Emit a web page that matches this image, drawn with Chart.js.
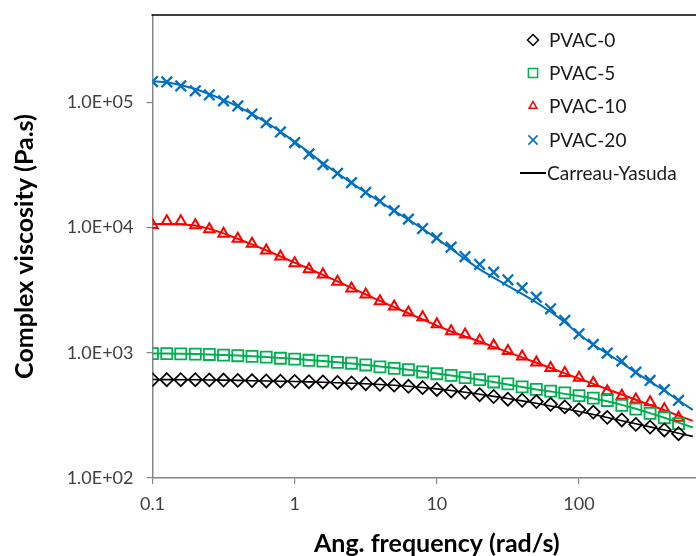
<!DOCTYPE html>
<html>
<head>
<meta charset="utf-8">
<script src="https://cdn.jsdelivr.net/npm/chart.js@4/dist/chart.umd.min.js"></script>
<style>
  html, body { margin: 0; padding: 0; background: #fff; overflow: hidden; }
  #wrap { width: 696px; height: 556px; overflow: hidden; }
</style>
</head>
<body>
<div id="wrap"><canvas id="chrt" width="731" height="559"></canvas></div>
<script>
// angular frequency (rad/s)
let freq = [0.1, 0.126, 0.158, 0.2, 0.251, 0.316, 0.398, 0.501, 0.631, 0.794,
    1, 1.26, 1.58, 2, 2.51, 3.16, 3.98, 5.01, 6.31, 7.94,
    10, 12.6, 15.8, 20, 25.1, 31.6, 39.8, 50.1, 63.1, 79.4,
    100, 126, 158, 200, 251, 316, 398, 501, 631];

// measured complex viscosity (Pa.s)
let pvac0 = [610, 610, 610, 610, 608, 606, 602, 600, 596, 594,
    592, 588, 585, 580, 574, 567, 560, 552, 540, 527,
    510, 496, 484, 463, 448, 426, 418, 408, 388, 370,
    352, 336, 305, 291, 268, 255, 242, 226];
let pvac5 = [984, 984, 982, 975, 970, 960, 948, 936, 924, 905,
    890, 872, 858, 840, 826, 800, 772, 752, 733, 703,
    681, 660, 634, 610, 585, 565, 535, 510, 494, 478,
    455, 434, 416, 380, 355, 328, 303, 272];
let pvac10 = [10520, 11250, 11250, 10450, 9710, 8920, 8140, 7430, 6560, 5880,
    5200, 4650, 4220, 3690, 3265, 2925, 2585, 2345, 2100, 1927,
    1690, 1490, 1400, 1256, 1146, 1032, 936, 838, 755, 689,
    633, 573, 494, 454, 423, 402, 355, 303];
let pvac20 = [147000, 146000, 135500, 124000, 115000, 103000, 93800, 80900, 69000, 58200,
    47800, 38800, 31900, 27200, 22900, 19100, 16300, 13700, 11700, 9840,
    8300, 6980, 5880, 5080, 4405, 3830, 3310, 2785, 2249, 1815,
    1420, 1167, 995, 859, 701, 602, 508, 417];

// Carreau-Yasuda fits
let fit0 = [612, 611, 610, 609, 607, 605, 602, 599, 596, 593,
    590, 586, 582, 577, 572, 566, 559, 551, 541, 529,
    515, 500, 484, 467, 449, 431, 413, 395, 376, 358,
    340, 322, 304, 287, 271, 256, 242, 228, 215];
let fit5 = [988, 986, 983, 978, 971, 962, 951, 939, 926, 911,
    895, 878, 860, 842, 822, 801, 779, 756, 732, 708,
    684, 659, 634, 609, 584, 559, 534, 509, 492, 470,
    452, 432, 410, 384, 357, 330, 303, 277, 253];
let fit10 = [10700, 10700, 10650, 10400, 9800, 9000, 8150, 7350, 6600, 5900,
    5250, 4700, 4200, 3720, 3300, 2930, 2600, 2320, 2070, 1850,
    1650, 1480, 1350, 1231, 1116, 1013, 919, 834, 756, 686,
    622, 565, 512, 465, 422, 383, 348, 315, 286];
let fit20 = [148000, 145000, 138000, 128000, 117000, 105000, 93000, 81000, 69500, 58500,
    48500, 40000, 32800, 27200, 22800, 19100, 16100, 13600, 11600, 9800,
    8150, 6800, 5600, 4650, 3990, 3420, 2960, 2530, 2130, 1760,
    1400, 1160, 985, 830, 695, 588, 500, 416, 350];

let names = ['PVAC-0', 'PVAC-5', 'PVAC-10', 'PVAC-20'];
let colors = ['#000000', '#00b050', '#ff0000', '#0070c0'];
let fitName = 'Carreau-Yasuda';

function pts(ys) {
    return ys.map((y, i) => ({x: freq[i], y: y}));
}

let markerStyles = [
    {pointStyle: 'rectRot', pointRadius: 6.5, pointBorderWidth: 1.7},
    {pointStyle: 'rect', pointRadius: 7.8, pointBorderWidth: 1.8},
    {pointStyle: 'triangle', pointRadius: 6, pointBorderWidth: 2},
    {pointStyle: 'crossRot', pointRadius: 7.5, pointBorderWidth: 2.3}
];
let legendStyles = [
    {pointStyle: 'rectRot', radius: 5.5, borderWidth: 1.8},
    {pointStyle: 'rect', radius: 6.5, borderWidth: 1.6},
    {pointStyle: 'triangle', radius: 4.5, borderWidth: 2},
    {pointStyle: 'crossRot', radius: 6.5, borderWidth: 2}
];

let measured = [pvac0, pvac5, pvac10, pvac20];
let fits = [fit0, fit5, fit10, fit20];

let datasets = [];
measured.forEach(function(m, i) {
    datasets.push(Object.assign({
        label: names[i],
        data: pts(m),
        showLine: false,
        borderColor: colors[i],
        backgroundColor: 'rgba(0,0,0,0)',
        pointBackgroundColor: 'rgba(0,0,0,0)',
        order: 0
    }, markerStyles[i]));
});
fits.forEach(function(f, i) {
    datasets.push({
        label: fitName,
        data: pts(f),
        showLine: true,
        borderColor: colors[i],
        borderWidth: i == 0 ? 1.6 : 2,
        pointRadius: 0,
        tension: 0,
        order: 1
    });
});

function isDecade(v) {
    let l = Math.log10(v);
    return Math.abs(l - Math.round(l)) < 1e-6;
}

// top frame line + legend inside the plot
let extras = {
    id: 'extras',
    afterDraw(chart) {
        let ctx = chart.ctx;
        let a = chart.chartArea;
        ctx.save();
        ctx.strokeStyle = '#000';
        ctx.lineWidth = 1.5;
        ctx.beginPath();
        ctx.moveTo(a.left - 1, a.top);
        ctx.lineTo(a.right, a.top);
        ctx.stroke();

        ctx.font = '19px Lato';
        ctx.textBaseline = 'middle';
        ctx.fillStyle = '#1a1a1a';
        let ys = [40, 73, 106, 140];
        for (let i = 0; i < 4; i++) {
            ctx.strokeStyle = colors[i];
            ctx.fillStyle = 'rgba(0,0,0,0)';
            let o = Object.assign({rotation: 0}, legendStyles[i]);
            Chart.helpers.drawPoint(ctx, o, 533, ys[i]);
            ctx.fillStyle = '#1a1a1a';
            ctx.fillText(names[i], 549, ys[i] + 1);
        }
        ctx.strokeStyle = '#000';
        ctx.lineWidth = 2;
        ctx.beginPath();
        ctx.moveTo(520, 173);
        ctx.lineTo(546, 173);
        ctx.stroke();
        ctx.fillText(fitName, 547, 174);
        ctx.restore();
    }
};

let chrt = document.getElementById('chrt').getContext('2d');
let myChart = new Chart(chrt, {
    type: 'scatter',
    data: {datasets: datasets},
    options: {
        responsive: false,
        animation: false,
        events: [],
        layout: {padding: {top: 15, right: 0, bottom: 0, left: 0}},
        plugins: {
            legend: {display: false},
            tooltip: {enabled: false}
        },
        scales: {
            x: {
                type: 'logarithmic',
                min: 0.1,
                max: 1000,
                afterFit(scale) {
                    scale.height = 81;
                    scale.paddingLeft = 0;
                    scale.paddingRight = 0;
                },
                border: {color: '#868686', width: 1.5},
                grid: {drawOnChartArea: false, drawTicks: true, tickLength: 6, color: '#868686', lineWidth: 1.2},
                ticks: {
                    autoSkip: false,
                    maxRotation: 0,
                    padding: 9,
                    color: '#404040',
                    font: {family: 'Lato', size: 18},
                    callback: function(v) {
                        if (isDecade(v) && v < 1000) return String(v);
                        return null;
                    }
                },
                title: {
                    display: true,
                    text: 'Ang. frequency (rad/s)',
                    color: '#000',
                    font: {family: 'Lato', size: 25, weight: 'bold'},
                    padding: {top: 0, bottom: 0}
                }
            },
            y: {
                type: 'logarithmic',
                min: 100,
                max: 500000,
                afterFit(scale) {
                    scale.width = 152.5;
                    scale.paddingTop = 0;
                    scale.paddingBottom = 0;
                },
                border: {color: '#868686', width: 1.5},
                grid: {drawOnChartArea: false, drawTicks: true, tickLength: 6, color: '#868686', lineWidth: 1.2},
                ticks: {
                    autoSkip: false,
                    padding: 13,
                    color: '#404040',
                    font: {family: 'Lato', size: 18},
                    callback: function(v) {
                        if (isDecade(v)) {
                            let e = Math.round(Math.log10(v));
                            return '1.0E+' + String(e).padStart(2, '0');
                        }
                        return null;
                    }
                },
                title: {
                    display: true,
                    text: 'Complex viscosity (Pa.s)',
                    color: '#000',
                    font: {family: 'Lato', size: 25, weight: 'bold'},
                    padding: {top: 10, bottom: 0}
                }
            }
        }
    },
    plugins: [extras]
});
</script>
</body>
</html>
